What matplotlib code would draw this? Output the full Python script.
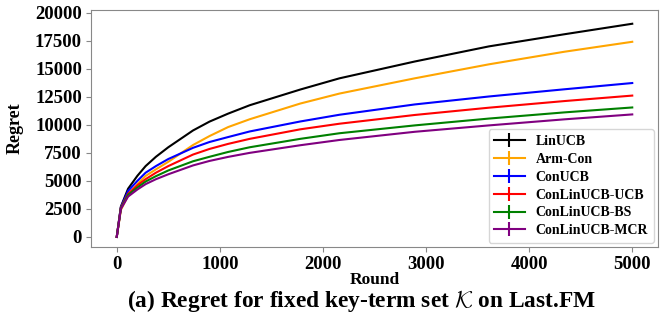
import numpy as np
import matplotlib
matplotlib.use("Agg")
import matplotlib.pyplot as plt

plt.rcParams['font.family'] = ['Liberation Serif', 'DejaVu Serif']
plt.rcParams['font.weight'] = 'bold'
plt.rcParams['mathtext.fontset'] = 'cm'

# ================================================
# Data
# ================================================
rounds = [0, 40, 110, 200, 280, 380, 500, 740, 900, 1080, 1290, 1780, 2160, 2890, 3610, 4340, 5000]

linucb = [0, 2700, 4300, 5450, 6320, 7150, 8000, 9500, 10290, 11000, 11750, 13150, 14150, 15650, 17000, 18080, 19020]
arm_con = [0, 2400, 3700, 4710, 5440, 6030, 6700, 8200, 9000, 9800, 10500, 11900, 12790, 14150, 15400, 16520, 17410]
conucb = [0, 2650, 4100, 5000, 5730, 6320, 6950, 7950, 8470, 8910, 9410, 10300, 10900, 11820, 12530, 13170, 13730]
conlin_ucb = [0, 2600, 3850, 4600, 5150, 5730, 6320, 7350, 7850, 8300, 8750, 9600, 10100, 10880, 11530, 12120, 12610]
conlin_bs = [0, 2550, 3750, 4410, 4940, 5420, 5930, 6750, 7150, 7580, 8000, 8750, 9250, 9950, 10560, 11110, 11550]
conlin_mcr = [0, 2500, 3600, 4230, 4710, 5150, 5590, 6380, 6780, 7140, 7500, 8180, 8650, 9380, 9950, 10490, 10930]

labels = ['LinUCB', 'Arm-Con', 'ConUCB', 'ConLinUCB-UCB', 'ConLinUCB-BS', 'ConLinUCB-MCR']
colors = ['black', 'orange', 'blue', 'red', 'green', 'purple']
series = [linucb, arm_con, conucb, conlin_ucb, conlin_bs, conlin_mcr]

# ================================================
# Plot
# ================================================
fig = plt.figure(figsize=(6.64, 3.32), dpi=100)
ax = fig.add_axes([0.137, 0.256, 0.854, 0.714])

for y, lab, c in zip(series, labels, colors):
    ax.errorbar(rounds, y, yerr=np.zeros(len(y)), color=c, label=lab, linewidth=1.5)

ax.set_ylim(-900, 20250)
ax.set_yticks(np.arange(0, 20001, 2500))
ax.set_xticks(np.arange(0, 5001, 1000))
ax.tick_params(labelsize=13.5, color='#888888', pad=3)
for lbl in ax.get_xticklabels() + ax.get_yticklabels():
    lbl.set_fontweight('bold')
for s in ax.spines.values():
    s.set_color('#888888')

ax.set_xlabel('Round', fontsize=12.5, fontweight='bold', labelpad=-1)
ax.set_ylabel('Regret', fontsize=13, fontweight='bold', labelpad=8)

leg = ax.legend(loc='lower right', prop={'weight': 'bold', 'size': 10},
                handlelength=2.2, borderaxespad=0.3, labelspacing=0.35)

fig.text(0.545, 0.094, r'(a) Regret for fixed key-term set $\mathcal{K}$ on Last.FM',
         ha='center', va='center', fontsize=16.8, fontweight='bold')

fig.savefig('out.png', dpi=100)
